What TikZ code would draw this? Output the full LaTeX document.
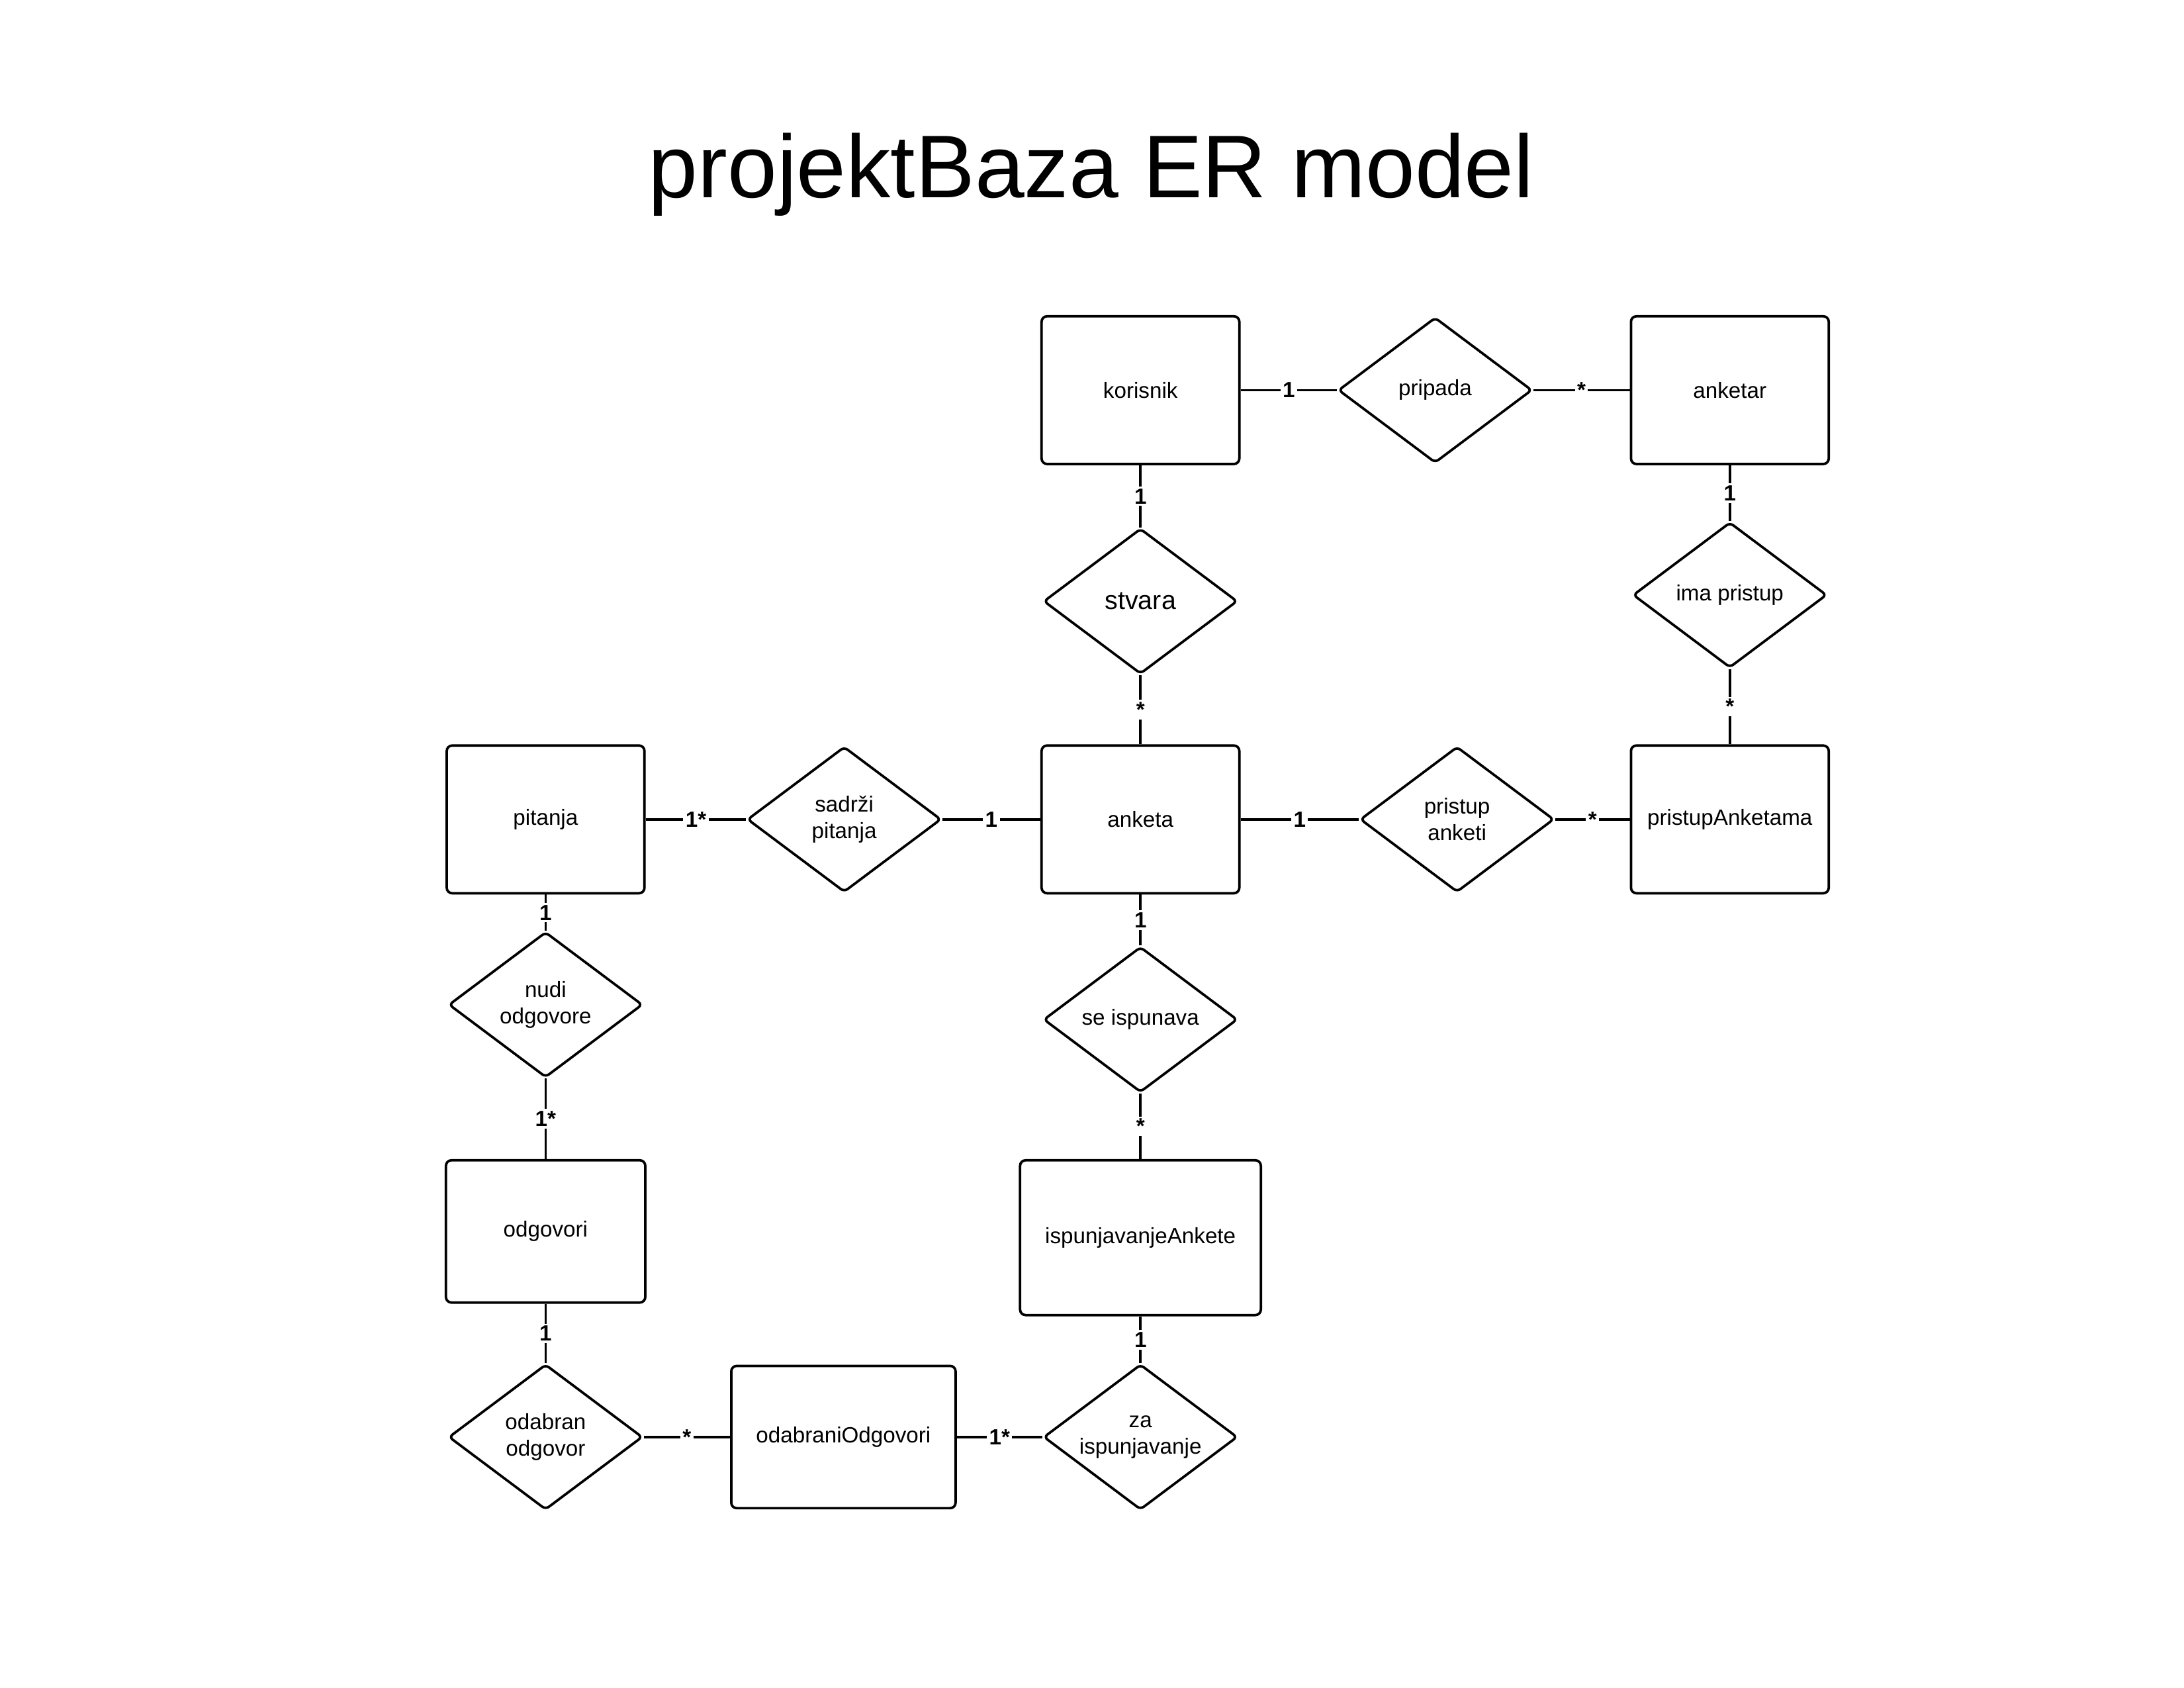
\documentclass[tikz,border=0pt]{standalone}
\usepackage{fontspec}
\setmainfont{Liberation Sans}
\usepackage{tikz}
\usetikzlibrary{
  positioning,
  shapes.geometric
}

\begin{document}
\begin{tikzpicture}[
  entity/.style={
    draw, line width=0.9pt,
    fill=white,
    rounded corners=2pt,
    minimum width=2.53cm, minimum height=1.89cm,
    align=center, inner sep=2pt,
    font=\fontsize{8}{9.7}\selectfont
  },
  relation/.style={
    draw, diamond, aspect=1.34, line width=0.9pt,
    fill=white,
    rounded corners=1.5pt,
    minimum width=2.48cm, minimum height=1.86cm,
    align=center, inner sep=0pt,
    font=\fontsize{8}{9.7}\selectfont
  },
  link/.style={line width=0.9pt},
  card/.style={
    fill=white, inner sep=0.8pt,
    font=\fontsize{8}{9.7}\selectfont\bfseries
  }
]
\useasboundingbox (0,0) rectangle (27.94,-21.59);

\node[anchor=base, font=\fontsize{32.4}{38}\selectfont] (title) at (13.96,-2.53)
  {projektBaza ER model};

\node[entity] (korisnik) at (14.59,-4.99) {korisnik};
\node[entity] (anketar) at (22.13,-4.99) {anketar};
\node[entity] (pitanja) at (6.98,-10.48) {pitanja};
\node[entity] (anketa) at (14.59,-10.48) {anketa};
\node[entity] (pristupAnketama) at (22.13,-10.48) {pristupAnketama};
\node[entity, minimum height=1.82cm, minimum width=2.55cm] (odgovori) at (6.98,-15.75) {odgovori};
\node[entity, minimum width=3.08cm, minimum height=1.98cm] (ispunjavanjeAnkete) at (14.59,-15.83) {ispunjavanjeAnkete};
\node[entity, minimum width=2.87cm, minimum height=1.82cm] (odabraniOdgovori) at (10.79,-18.38) {odabraniOdgovori};

\node[relation] (pripada) at (18.36,-4.99) {pripada};
\node[relation, font=\fontsize{9.5}{11}\selectfont] (stvara) at (14.59,-7.69) {stvara};
\node[relation] (imaPristup) at (22.13,-7.61) {ima pristup};
\node[relation] (sadrzi) at (10.80,-10.48) {sadrži\\pitanja};
\node[relation] (pristupAnketi) at (18.64,-10.48) {pristup\\anketi};
\node[relation] (nudi) at (6.98,-12.85) {nudi\\odgovore};
\node[relation] (seIspunava) at (14.59,-13.04) {se ispunava};
\node[relation] (odabran) at (6.98,-18.38) {odabran\\odgovor};
\node[relation] (za) at (14.59,-18.38) {za\\ispunjavanje};

\draw[link] (korisnik) -- node[card] {1} (pripada);
\draw[link] (pripada) -- node[card] {*} (anketar);
\draw[link] (korisnik) -- node[card] {1} (stvara);
\draw[link] (stvara) -- node[card] {*} (anketa);
\draw[link] (anketar) -- node[card] {1} (imaPristup);
\draw[link] (imaPristup) -- node[card] {*} (pristupAnketama);
\draw[link] (pitanja) -- node[card] {1*} (sadrzi);
\draw[link] (sadrzi) -- node[card] {1} (anketa);
\draw[link] (anketa) -- node[card] {1} (pristupAnketi);
\draw[link] (pristupAnketi) -- node[card] {*} (pristupAnketama);
\draw[link] (pitanja) -- node[card] {1} (nudi);
\draw[link] (nudi) -- node[card] {1*} (odgovori);
\draw[link] (anketa) -- node[card] {1} (seIspunava);
\draw[link] (seIspunava) -- node[card] {*} (ispunjavanjeAnkete);
\draw[link] (odgovori) -- node[card] {1} (odabran);
\draw[link] (ispunjavanjeAnkete) -- node[card] {1} (za);
\draw[link] (odabran) -- node[card] {*} (odabraniOdgovori);
\draw[link] (odabraniOdgovori) -- node[card] {1*} (za);
\end{tikzpicture}
\end{document}
